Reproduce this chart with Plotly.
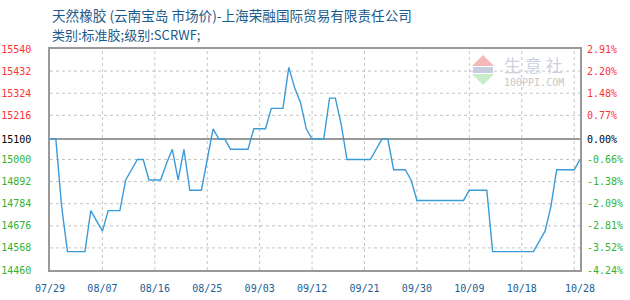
import plotly.graph_objects as go
import pandas as pd

# ---- data ----
start_date = "2013-07-29"
prices = [15100, 15100, 14770, 14550, 14550, 14550, 14550, 14750, 14700, 14650,
          14750, 14750, 14750, 14900, 14950, 15000, 15000, 14900, 14900, 14900,
          14980, 15050, 14900, 15050, 14850, 14850, 14850, 15000, 15150, 15100,
          15100, 15050, 15050, 15050, 15050, 15150, 15150, 15150, 15250, 15250,
          15250, 15450, 15350, 15280, 15150, 15100, 15100, 15100, 15300, 15300,
          15170, 15000, 15000, 15000, 15000, 15000, 15050, 15100, 15100, 14950,
          14950, 14950, 14900, 14800, 14800, 14800, 14800, 14800, 14800, 14800,
          14800, 14800, 14850, 14850, 14850, 14850, 14550, 14550, 14550, 14550,
          14550, 14550, 14550, 14550, 14600, 14650, 14770, 14950, 14950, 14950,
          14950, 15000]
dates = pd.date_range(start_date, periods=len(prices))
base_price = 15100
y_ticks = [15540, 15432, 15324, 15216, 15100, 15000, 14892, 14784, 14676, 14568, 14460]
x_label_text = ["07/29", "08/07", "08/16", "08/25", "09/03", "09/12",
                "09/21", "09/30", "10/09", "10/18", "10/28"]
x_label_idx = [0, 9, 18, 27, 36, 45, 54, 63, 72, 81, 91]
x_grid_idx = [0, 9, 18, 27, 36, 45, 54, 63, 72, 81, 90]

title1 = "天然橡胶 (云南宝岛 市场价)-上海荣融国际贸易有限责任公司"
title2 = "类别:标准胶;级别:SCRWF;"

RED, GREEN, BLACK = "#ff3333", "#33b233", "#000000"
GRID = "#c4c4c4"
W, H = 630, 300
L, R, T, B = 50, 50, 49, 30

def col(v):
    return RED if v > base_price else (BLACK if v == base_price else GREEN)

left_text = [f"<span style='color:{col(v)}'>{v}</span>" for v in y_ticks]
pct_vals = [(v / base_price - 1) * 100 for v in y_ticks]
right_text = [f"<span style='color:{col(v)}'>{p:.2f}%</span>" for v, p in zip(y_ticks, pct_vals)]

ymin, ymax = min(y_ticks), max(y_ticks)
xr = [dates[0], dates[-1]]

fig = go.Figure()
fig.add_trace(go.Scatter(x=dates, y=prices, mode="lines",
                         line=dict(color="#3a9bd9", width=1.4), showlegend=False,
                         hoverinfo="skip"))
# invisible trace for the percentage axis
fig.add_trace(go.Scatter(x=[dates[0]], y=[0], yaxis="y2", mode="markers",
                         marker=dict(opacity=0), showlegend=False, hoverinfo="skip"))

tickfont = dict(family="DejaVu Sans Mono", size=10)

def px(x):
    return (x - L) / (W - L - R)

def py(y):
    return (H - B - y) / (H - T - B)

fig.update_layout(
    width=W, height=H,
    margin=dict(l=L, r=R, t=T, b=B, autoexpand=False),
    paper_bgcolor="white", plot_bgcolor="white",
    xaxis=dict(type="date", range=xr, tickvals=[dates[i] for i in x_label_idx],
               ticktext=x_label_text, tickfont=dict(color="#1a5e96", **tickfont),
               showgrid=False, showline=True, linecolor="#999999",
               linewidth=1.5, mirror=True, zeroline=False, ticks="outside",
               ticklen=8, tickcolor="rgba(0,0,0,0)", automargin=False),
    yaxis=dict(range=[ymin, ymax], tickvals=y_ticks, ticktext=left_text,
               showgrid=False, showline=True, linecolor="#999999", linewidth=1.5,
               mirror=True, zeroline=False, ticks="outside", ticklen=15,
               tickcolor="rgba(0,0,0,0)", tickfont=tickfont, automargin=False),
    yaxis2=dict(range=[pct_vals[-1], pct_vals[0]], overlaying="y", side="right",
                anchor="x", tickvals=pct_vals, ticktext=right_text, showgrid=False,
                zeroline=True, zerolinecolor="#999999", zerolinewidth=2,
                ticks="outside", ticklen=4, tickcolor="rgba(0,0,0,0)",
                tickfont=tickfont, automargin=False),
)

# grid lines (dashed)
for i in x_grid_idx[1:]:
    fig.add_shape(type="line", xref="x", yref="paper", x0=dates[i], x1=dates[i],
                  y0=0, y1=1, layer="below", line=dict(color=GRID, width=1, dash="dot"))
for v in y_ticks[1:-1]:
    if v != base_price:
        fig.add_shape(type="line", xref="paper", yref="y", x0=0, x1=1, y0=v, y1=v,
                      layer="below", line=dict(color=GRID, width=1, dash="dot"))

# titles
fig.add_annotation(text=title1, xref="paper", yref="paper", x=px(50), y=py(15),
                   xanchor="left", yanchor="middle", showarrow=False,
                   font=dict(family="Noto Sans CJK SC", size=13.6, color="#1b5a8a"))
fig.add_annotation(text=title2, xref="paper", yref="paper", x=px(50), y=py(34),
                   xanchor="left", yanchor="middle", showarrow=False,
                   font=dict(family="Noto Sans CJK SC", size=13, color="#1b5a8a"))

# watermark logo
fig.add_shape(type="path", xref="paper", yref="paper", layer="below",
              path=f"M {px(472)} {py(66)} L {px(483)} {py(55)} L {px(494)} {py(66)} Z",
              fillcolor="#f4b8b8", line=dict(width=0))
fig.add_shape(type="path", xref="paper", yref="paper", layer="below",
              path=f"M {px(472)} {py(74)} L {px(494)} {py(74)} L {px(483)} {py(85)} Z",
              fillcolor="#c8ecc8", line=dict(width=0))
fig.add_shape(type="rect", xref="paper", yref="paper", layer="below",
              x0=px(473), x1=px(493), y0=py(73), y1=py(67),
              fillcolor="#c8cde0", line=dict(width=0))
fig.add_annotation(text="生 意 社", xref="paper", yref="paper", x=px(502), y=py(64),
                   xanchor="left", yanchor="middle", showarrow=False,
                   font=dict(family="Noto Sans CJK SC", size=17, color="#cdd2e2"))
fig.add_annotation(text="100PPI.COM", xref="paper", yref="paper", x=px(502), y=py(82),
                   xanchor="left", yanchor="middle", showarrow=False,
                   font=dict(family="DejaVu Sans Mono", size=10, color="#c8c8c8"))

fig.write_html("out.html")
